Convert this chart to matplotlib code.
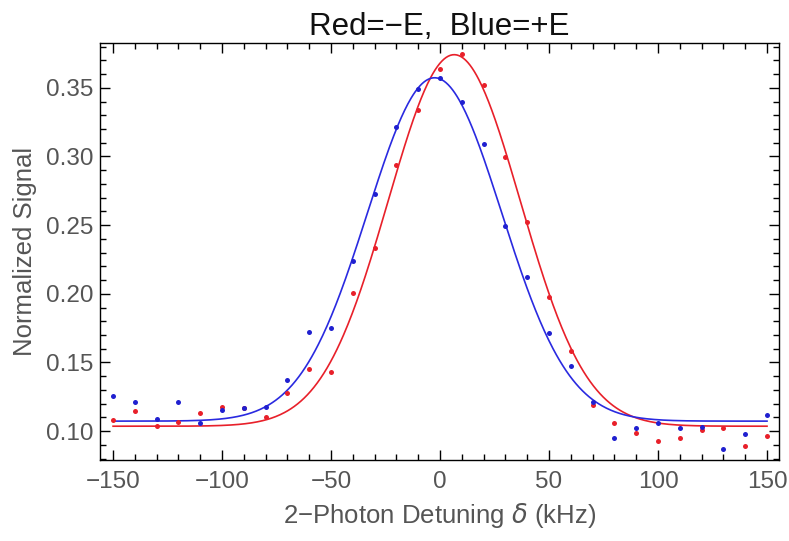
import numpy as np
import matplotlib
matplotlib.use("Agg")
import matplotlib.pyplot as plt
from matplotlib.ticker import MultipleLocator

detuning = list(range(-150, 151, 10))

# Data
red_signal = [0.108, 0.1148, 0.1036, 0.1068, 0.1129, 0.1173, 0.1165, 0.110, 0.128, 0.145,
              0.1428, 0.2003, 0.233, 0.2937, 0.3338, 0.3637, 0.3744, 0.352, 0.2993, 0.2525,
              0.1978, 0.1583, 0.119, 0.1056, 0.0983, 0.0927, 0.0951, 0.1012, 0.102, 0.0893, 0.0964]
blue_signal = [0.1257, 0.1209, 0.109, 0.1209, 0.1056, 0.1153, 0.1165, 0.1177, 0.137, 0.1723,
               0.1748, 0.224, 0.2726, 0.3216, 0.3489, 0.3569, 0.3394, 0.3088, 0.2495, 0.212,
               0.1711, 0.1478, 0.1209, 0.0951, 0.102, 0.1056, 0.102, 0.1031, 0.0869, 0.0976, 0.1117]

# Gaussian fit parameters (offset, amplitude, center, sigma)
red_fit = (0.1036, 0.2705, 6.5, 30.3)
blue_fit = (0.1073, 0.2500, -2.5, 30.8)

red_color = "#e8202a"
blue_color = "#2020d0"

fig = plt.figure(figsize=(7.89, 5.41), dpi=100)
ax = fig.add_axes([100/789, 1-460/541, 679/789, 417/541])

xf = np.linspace(-150, 150, 600)
def gauss(x, p):
    c, a, m, s = p
    return c + a*np.exp(-(x-m)**2/(2*s**2))

ax.plot(xf, gauss(xf, red_fit), color=red_color, lw=1.2, zorder=2)
ax.plot(xf, gauss(xf, blue_fit), color="#2a2ae0", lw=1.2, zorder=2)
ax.plot(detuning, red_signal, 'o', color=red_color, ms=3.6, mec='none', zorder=3)
ax.plot(detuning, blue_signal, 'o', color=blue_color, ms=3.6, mec='none', zorder=3)

ax.set_xlim(-156, 155.5)
ax.set_ylim(0.079, 0.3826)
ax.xaxis.set_major_locator(MultipleLocator(50))
ax.xaxis.set_minor_locator(MultipleLocator(10))
ax.yaxis.set_major_locator(MultipleLocator(0.05))
ax.yaxis.set_minor_locator(MultipleLocator(0.01))
ax.yaxis.set_major_formatter(matplotlib.ticker.FormatStrFormatter('%.2f'))

fam = ['Liberation Sans', 'DejaVu Sans']
ax.tick_params(which='both', direction='in', top=True, right=True, colors='black',
               labelcolor='#555555', width=1.0)
ax.tick_params(which='major', length=7, labelsize=17.5)
ax.tick_params(axis='x', which='major', pad=8)
ax.tick_params(axis='y', which='major', pad=5)
ax.tick_params(which='minor', length=4)
for lab in ax.get_xticklabels() + ax.get_yticklabels():
    lab.set_family(fam)
for sp in ax.spines.values():
    sp.set_linewidth(1.0)

ax.set_xlabel("2\u2212Photon Detuning $\\delta$ (kHz)", fontsize=18.5, color='#555555', family=fam, labelpad=6)
ax.set_ylabel("Normalized Signal", fontsize=18.5, color='#555555', family=fam, labelpad=6)
ax.set_title("Red=\u2212E,  Blue=+E", fontsize=22.5, color='#111111', family=fam, pad=6)

fig.savefig("out.png", dpi=100)
